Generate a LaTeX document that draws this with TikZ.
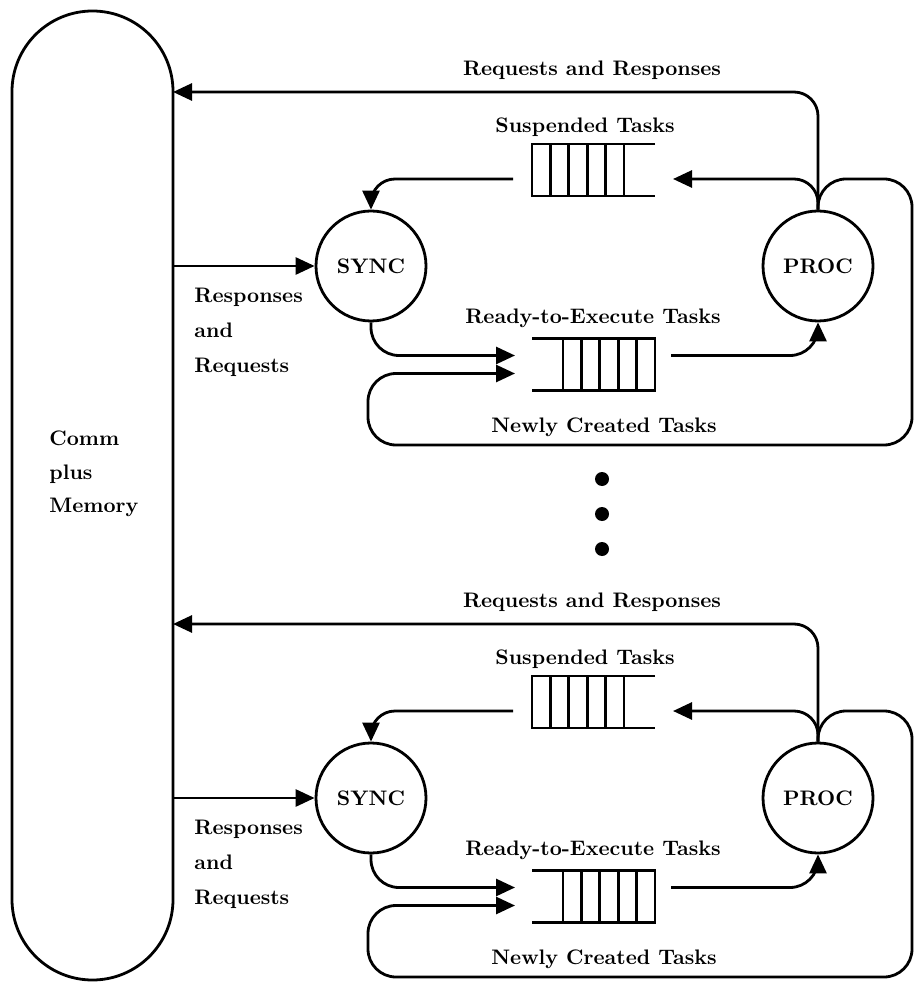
\documentclass[tikz,border=0pt]{standalone}
\usepackage{tikz}
\usetikzlibrary{arrows.meta,positioning,calc}
\newcommand{\labfont}{\fontsize{10.5}{17.5}\selectfont\bfseries}
\tikzset{
  >={Triangle[length=9.5pt,width=8.5pt]},
  line/.style={line width=1.4pt},
  ar/.style={line,->},
  station/.style={circle,draw,line width=1.4pt,minimum size=55pt,inner sep=0pt,font=\labfont},
  qbox/.style={minimum width=61.5pt,minimum height=26pt,inner sep=0pt,outer sep=0pt},
  lab/.style={font=\labfont,inner sep=1pt},
  stack/.style={lab,align=left,anchor=west},
  dot/.style={circle,fill,inner sep=0pt,minimum size=7pt},
}
% queue: name, closed side, open side, direction of the cells
\newcommand{\queue}[4]{%
  \draw[line] (#1.north #3) -- (#1.north #2) -- (#1.south #2) -- (#1.south #3);
  \foreach \k in {1,...,5}
    \draw[line] ($(#1.north #2)+(#4*\k*9.2pt,0)$) -- ($(#1.south #2)+(#4*\k*9.2pt,0)$);
}

\begin{document}
\begin{tikzpicture}[x=0.5pt,y=-0.5pt]
  \useasboundingbox (0,0) rectangle (914,983);
  \node[draw,line width=1.4pt,rounded corners=40.25pt,minimum width=80.5pt,minimum height=484.5pt,inner sep=0pt] (mem) at (92.5,495.5) {};
  \node[stack,font=\fontsize{10.5}{16.8}\selectfont\bfseries] (memtxt) at (47,474) {Comm\\plus\\Memory};
  \foreach \b/\dy in {1/0,2/532}{
    \begin{scope}[shift={(0,\dy)}]
      \node[station] (sync\b) at (371,266) {SYNC};
      \node[station] (proc\b) at (818,266) {PROC};
      \node[qbox] (susp\b) at (593.5,170) {};
      \node[qbox] (ready\b) at (593.5,364.5) {};
      \queue{susp\b}{west}{east}{1}
      \queue{ready\b}{east}{west}{-1}
      \coordinate (in\b) at (173,92);
      \coordinate (out\b) at (173,266);
      % labels
      \node[lab] (rqlab\b) at (592,70) {Requests and Responses};
      \node[lab] (susplab\b) at (585,127) {Suspended Tasks};
      \node[lab] (readylab\b) at (593,318) {Ready-to-Execute Tasks};
      \node[lab] (newlab\b) at (604,427) {Newly Created Tasks};
      \node[stack] (rrlab\b) at (192,332) {Responses\\and\\Requests};
      % connectors
      \draw[ar,rounded corners=12pt] (proc\b.north) |- (in\b);
      \draw[ar] (out\b) -- (sync\b);
      \draw[ar,rounded corners=12pt] (proc\b.north) |- ($(susp\b.east)+(18,9)$);
      \draw[ar,rounded corners=12pt] ($(susp\b.west)+(-19,9)$) -| (sync\b.north);
      \draw[ar,rounded corners=14pt] (sync\b.south) |- ($(ready\b.west)+(-17,-9)$);
      \draw[ar,rounded corners=14pt] ($(ready\b.east)+(16,-9)$) -| (proc\b.south);
      \draw[ar,rounded corners=14pt] (proc\b.north) |- (912,179) |- (368,445) |- ($(ready\b.west)+(-17,9)$);
    \end{scope}
  }
  \foreach \y in {479,514,549}
    \node[dot] (dot\y) at (602,\y) {};
\end{tikzpicture}
\end{document}
